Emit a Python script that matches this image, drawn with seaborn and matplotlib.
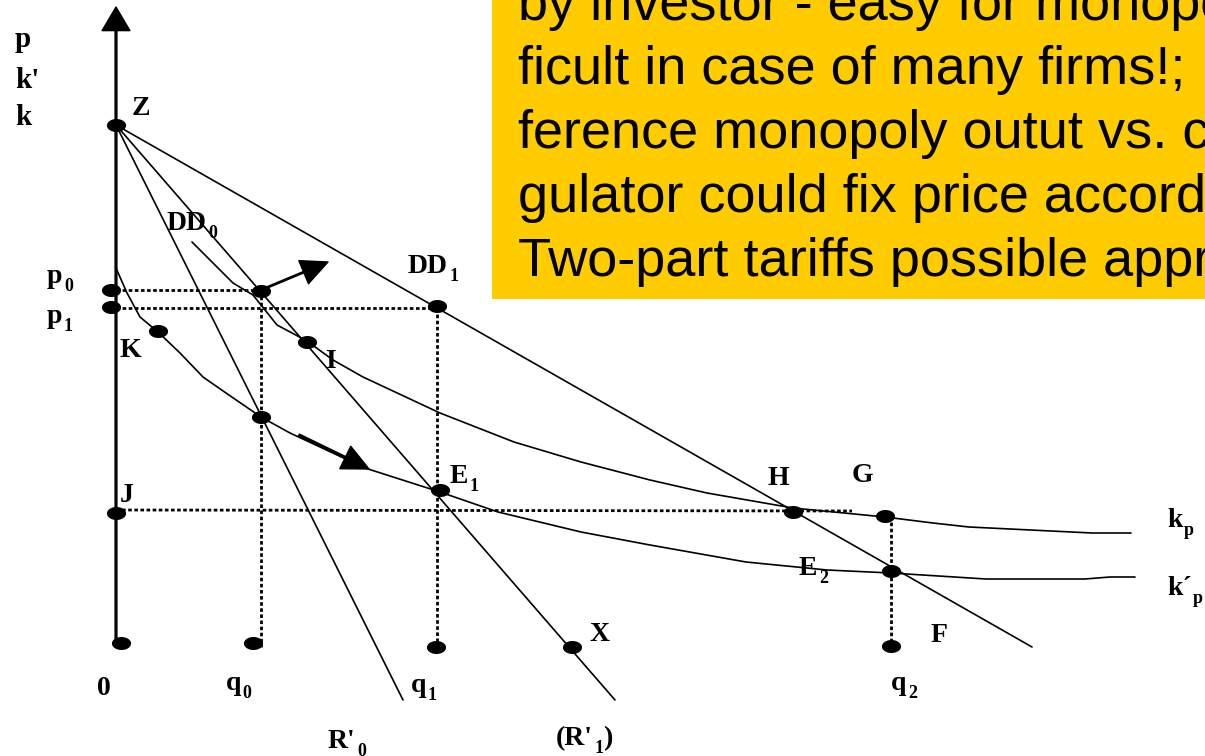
import numpy as np
import matplotlib.pyplot as plt
from matplotlib.path import Path
from matplotlib.patches import Rectangle
import seaborn as sns

# diagram units: quantity to the right of the p-axis, price above the q-axis
z_price = 522
q0, q1, x_point, q2, f_point = 145, 321, 455, 775, 916
p0, p1, j_price = 357, 339, 137

# straight lines out of Z
r0_q = [0, 287]
r0_p = [522, -53]
dd0_q = [0, 499]
dd0_p = [522, -53]
dd1_q = [0, 916]
dd1_p = [522, 0]

# cost curves
kp_q = [76, 97, 117, 137, 161, 191, 217, 247, 324, 398, 465, 534, 591, 677, 769, 817, 853, 976, 1015]
kp_p = [405, 384, 364, 352, 322, 306, 287, 270, 234, 205, 185, 167, 154, 139, 130, 124, 120, 114, 114]
kpp_q = [0, 11, 24, 42, 64, 87, 110, 145, 174, 249, 324, 382, 465, 534, 630, 711, 775, 870, 969, 994, 1019]
kpp_p = [379, 354, 330, 315, 294, 270, 254, 230, 214, 179, 155, 135, 115, 102, 85, 77, 74, 68, 68, 70, 70]

# marked points
dot_q = [0, -5, -5, 0, 5, 137, 320, 456, 775, 42, 145, 321, 191, 145, 324, 677, 769, 775]
dot_p = [522, 357, 340, 134, 4, 4, 0, 0, 1, 316, 356, 341, 305, 230, 157, 135, 131, 76]

box_lines = [
    "by investor - easy for monopolist, dif-",
    "ficult in case of many firms!;  Dif-",
    "ference monopoly outut vs. competition; Re-",
    "gulator could fix price according to MC;",
    "Two-part tariffs possible approach",
]

sns.set_style("white")
plt.rcParams["font.family"] = ["Liberation Serif", "DejaVu Serif"]
plt.rcParams["text.color"] = "black"
serif = ["Liberation Serif", "DejaVu Serif"]
sans = ["Liberation Sans", "DejaVu Sans"]

fig = plt.figure(figsize=(12.05, 7.56), dpi=100)
ax = fig.add_axes([0, 0, 1, 1])
ax.set_xlim(-116, 1089)
ax.set_ylim(-109, 647)
ax.axis("off")

# yellow note box
ax.add_patch(Rectangle((376, 348), 800, 400, facecolor="#ffcc00", edgecolor="none", zorder=1))
for i, line in enumerate(box_lines):
    ax.text(402, 627 - 64 * i, line, fontsize=39, family=sans, color="black",
            ha="left", va="baseline", zorder=2)

# axes with arrows
ax.annotate("", xy=(0, 640), xytext=(0, 0),
            arrowprops=dict(width=1.3, headwidth=20, headlength=17, color="black", shrink=0))
ax.annotate("", xy=(1100, 0), xytext=(0, 0),
            arrowprops=dict(width=1.3, headwidth=20, headlength=17, color="black", shrink=0))

# lines and curves
for xs, ys in [(r0_q, r0_p), (dd0_q, dd0_p), (dd1_q, dd1_p), (kp_q, kp_p), (kpp_q, kpp_p)]:
    sns.lineplot(x=xs, y=ys, sort=False, estimator=None, color="black", lw=1.2, ax=ax)

# dotted guides
dot_style = dict(color="black", lw=2.0, linestyle=(0, (1.3, 0.9)))
ax.plot([0, q0], [p0, p0], **dot_style)
ax.plot([q0, q0], [p0, 0], **dot_style)
ax.plot([0, q1], [p1, p1], **dot_style)
ax.plot([q1, q1], [p1, 0], **dot_style)
ax.plot([0, 736], [j_price, 136], **dot_style)
ax.plot([q2, q2], [131, 0], **dot_style)

# movement arrows
ax.annotate("", xy=(212, 385), xytext=(q0, p0),
            arrowprops=dict(width=1.0, headwidth=18, headlength=19, color="black", shrink=0))
ax.annotate("", xy=(253, 178), xytext=(183, 212),
            arrowprops=dict(width=1.4, headwidth=18, headlength=19, color="black", shrink=0))

# dots
theta = np.linspace(0, 2 * np.pi, 60)
ellipse = Path(np.column_stack([np.cos(theta), 0.68 * np.sin(theta)]), closed=True)
sns.scatterplot(x=dot_q, y=dot_p, marker=ellipse, s=190, color="black",
                linewidth=0, legend=False, zorder=5, ax=ax)


def label(x, y, main, sub=None, tail=None, size=20):
    t = ax.text(x, y, main, fontsize=size, fontweight="bold", family=serif, color="black",
                ha="left", va="baseline", zorder=6)
    if sub is None:
        return
    s = ax.annotate(sub, xy=(1, 0), xycoords=t, xytext=(1, -4), textcoords="offset points",
                    fontsize=13, fontweight="bold", family=serif, color="black",
                    ha="left", va="bottom", zorder=6)
    if tail is not None:
        ax.annotate(tail, xy=(1, 0), xycoords=s, xytext=(0, 4), textcoords="offset points",
                    fontsize=size, fontweight="bold", family=serif, color="black",
                    ha="left", va="bottom", zorder=6)


label(-101, 600, "p", size=21)
label(-101, 559, "k'", size=21)
label(-101, 522, "k", size=21)
label(16, 532, "Z")
label(51, 417, "DD", "0")
label(292, 374, "DD", "1")
label(-69, 364, "p", "0")
label(-69, 324, "p", "1")
label(4, 290, "K")
label(209, 279, "I")
label(4, 145, "J")
label(334, 164, "E", "1")
label(651, 162, "H")
label(736, 165, "G")
label(683, 72, "E", "2")
label(1051, 120, "k", "p")
label(1051, 52, "k\u00b4", "p")
label(473, 6, "X")
label(815, 5, "F")
label(-19, -48, "0")
label(110, -43, "q", "0")
label(295, -45, "q", "1")
label(775, -43, "q", "2")
label(212, -101, "R'", "0")
label(440, -98, "(R'", "1", ")")

fig.savefig("out.png", dpi=100)
